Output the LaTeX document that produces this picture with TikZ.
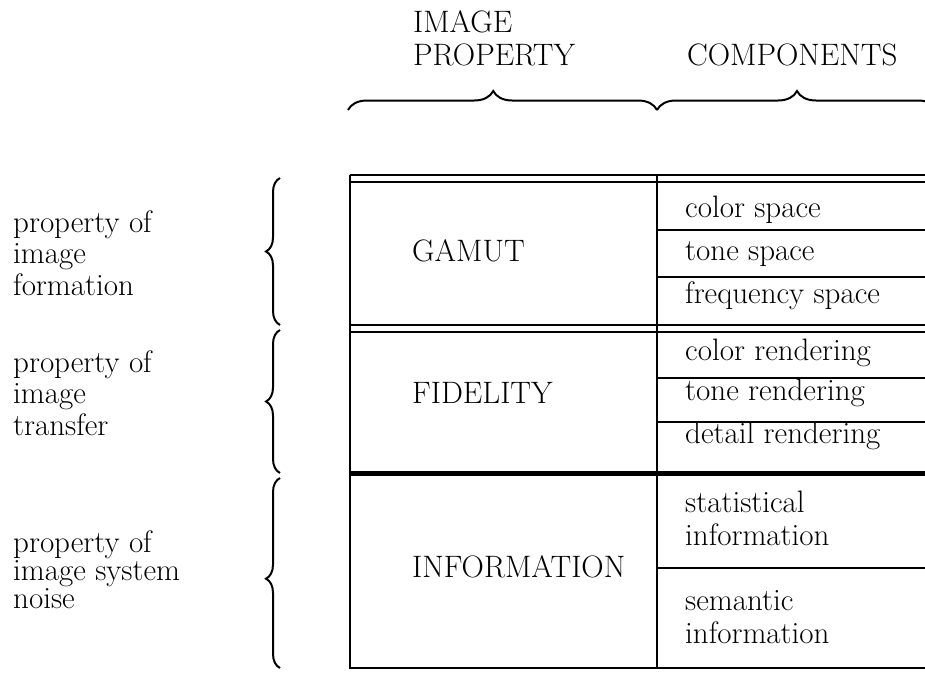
\documentclass[tikz,border=0pt]{standalone}
\usetikzlibrary{decorations.pathreplacing}
\begin{document}
\begin{tikzpicture}[x=1pt,y=-1pt,
  font=\fontsize{31}{34}\selectfont,
  rule/.style={line width=2pt},
  heavy/.style={line width=5pt},
  txt/.style={anchor=base west, inner sep=0pt},
  bracket/.style={line width=2pt, decorate,
    decoration={brace, amplitude=#1}},
  bracket/.default=14pt]
\useasboundingbox (0,0) rectangle (925,672);
\clip (0,0) rectangle (925,672);

% column headers
\node[txt] (h1) at (413,32) {IMAGE};
\node[txt] (h2) at (413,65) {PROPERTY};
\node[txt] (h3) at (687,65) {COMPONENTS};

% header braces
\coordinate (bl) at (348,110);
\coordinate (bm) at (657,110);
\coordinate (br) at (937,110);
\draw[bracket=19pt, decoration={aspect=0.47}] (bl) -- (bm);
\draw[bracket=19pt] (bm) -- (br);

% table frame
\coordinate (tl) at (350,175);
\coordinate (tm) at (657,175);
\coordinate (tr) at (925,175);
\coordinate (ll) at (350,668);
\coordinate (lm) at (657,668);
\coordinate (lr) at (925,668);
\draw[rule] (tl) -- (tr);
\draw[rule] (350,182) -- (925,182);
\draw[rule] (tl) -- (ll) -- (lr);
\draw[rule] (tm) -- (lm);

% group separators
\draw[rule] (350,325) -- (925,325);
\draw[rule] (350,332) -- (925,332);
\draw[heavy] (350,473) -- (925,473);

% component separators
\foreach \y in {230,277,378,422,568}
  \draw[rule] (657,\y) -- (925,\y);

% image properties
\node[txt] (gamut) at (412,261) {GAMUT};
\node[txt] (fid) at (412,403) {FIDELITY};
\node[txt] (info) at (412,577) {INFORMATION};

% components
\node[txt] (c1) at (685,217) {color space};
\node[txt] (c2) at (685,260) {tone space};
\node[txt] (c3) at (685,303) {frequency space};
\node[txt] (c4) at (685,360) {color rendering};
\node[txt] (c5) at (685,400) {tone rendering};
\node[txt] (c6) at (685,443) {detail rendering};
\node[txt] (c7) at (685,512) {statistical};
\node[txt] (c7b) at (685,545) {information};
\node[txt] (c8) at (685,610) {semantic};
\node[txt] (c8b) at (685,643) {information};

% row labels
\node[txt] (a1) at (13,232) {property of};
\node[txt] (a2) at (13,263) {image};
\node[txt] (a3) at (13,295) {formation};
\node[txt] (b1) at (13,372) {property of};
\node[txt] (b2) at (13,403) {image};
\node[txt] (b3) at (13,435) {transfer};
\node[txt] (d1) at (13,552) {property of};
\node[txt] (d2) at (13,580) {image system};
\node[txt] (d3) at (13,608) {noise};

% row braces
\coordinate (r0) at (280,178);
\coordinate (r1) at (280,325);
\coordinate (r2) at (280,330);
\coordinate (r3) at (280,473);
\coordinate (r4) at (280,478);
\coordinate (r5) at (280,668);
\draw[bracket] (r1) -- (r0);
\draw[bracket] (r3) -- (r2);
\draw[bracket, decoration={aspect=0.47}] (r5) -- (r4);
\end{tikzpicture}
\end{document}
